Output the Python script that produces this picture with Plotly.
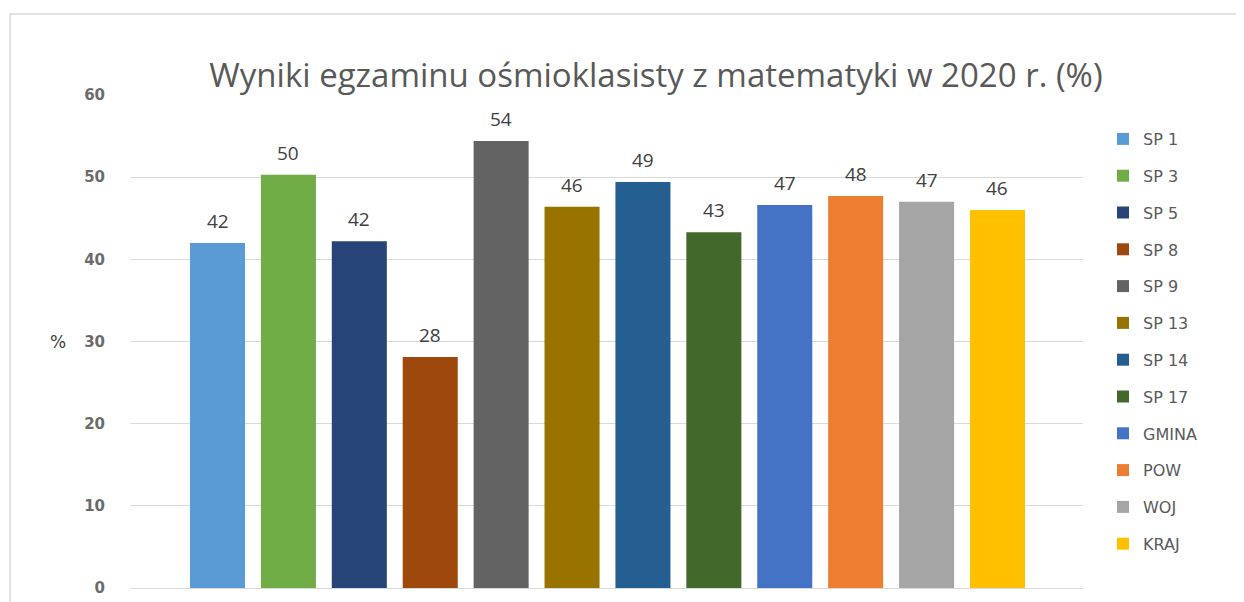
import plotly.graph_objects as go

categories = ["SP 1", "SP 3", "SP 5", "SP 8", "SP 9", "SP 13", "SP 14", "SP 17", "GMINA", "POW", "WOJ", "KRAJ"]
values = [42.0, 50.3, 42.2, 28.1, 54.4, 46.4, 49.4, 43.3, 46.6, 47.7, 47.0, 46.0]
colors = ["#5B9BD5", "#70AD47", "#264478", "#9E480E", "#636363", "#997300",
          "#255E91", "#43682B", "#4472C4", "#ED7D31", "#A5A5A5", "#FFC000"]
y_ticks = [0, 10, 20, 30, 40, 50, 60]
title_text = "Wyniki egzaminu ośmioklasisty z matematyki w 2020 r. (%)"

# page has an 8px body margin; figure fills the rest of the 1244x602 window
W, H = 1236, 594
L, R, T, B = 122, 161, 87, 14
pw, ph = W - L - R, H - T - B

fig = go.Figure()
for name, v, c in zip(categories, values, colors):
    fig.add_trace(go.Bar(
        x=[name], y=[v], name=name, legendgroup=name,
        marker=dict(color=c, line=dict(width=0)),
    ))

label_font = dict(family="Open Sans, Noto Sans, sans-serif", size=19, color="#404040")
annotations = [dict(x=name, y=v, xref="x", yref="y", text=f"{v:.0f}", showarrow=False,
                    yanchor="middle", yshift=22, font=label_font)
               for name, v in zip(categories, values)]
annotations.append(dict(text="%", x=(40 - L) / pw, xref="paper", y=30, yref="y", showarrow=False,
                        font=dict(family="DejaVu Sans, sans-serif", size=17, color="#404040")))

fig.update_layout(
    width=W, height=H,
    margin=dict(l=L, r=R, t=T, b=B),
    paper_bgcolor="white", plot_bgcolor="white",
    barmode="overlay", bargap=0.224,
    title=dict(text=title_text, x=648 / W, xanchor="center", y=1 - 67 / H, yanchor="middle",
               font=dict(family="Open Sans, Noto Sans, sans-serif", size=33, color="#595959")),
    xaxis=dict(range=[-1.234, 12.206], showticklabels=False, showgrid=False, zeroline=False,
               showline=True, linecolor="#d9d9d9", linewidth=1, ticks="", automargin=False),
    yaxis=dict(range=[0, 60], tickvals=y_ticks, showgrid=True, gridcolor="#d9d9d9", gridwidth=1,
               zeroline=False, showline=False, ticks="", automargin=False,
               tickfont=dict(family="DejaVu Sans, sans-serif", size=15, color="#6b6b6b", weight="bold"),
               ticklabelstandoff=24),
    legend=dict(x=(1095 - L) / pw, xanchor="left", y=(H - B - 114) / ph, yanchor="top",
                font=dict(family="DejaVu Sans, sans-serif", size=16, color="#595959"),
                tracegroupgap=13, itemclick=False, bgcolor="rgba(0,0,0,0)"),
    showlegend=True,
    annotations=annotations,
    shapes=[dict(type="rect", xref="paper", yref="paper",
                 x0=(2 - L) / pw, x1=(1260 - L) / pw, y0=-0.2, y1=(H - B - 6) / ph,
                 line=dict(color="#d9d9d9", width=1.5), layer="below")],
)

fig.write_html("out.html")
